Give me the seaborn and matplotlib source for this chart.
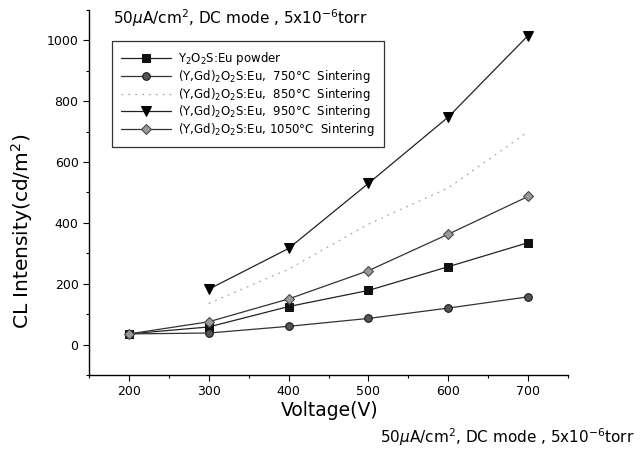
import matplotlib
matplotlib.use("Agg")
import matplotlib.pyplot as plt
import seaborn as sns
import pandas as pd
from matplotlib.ticker import MultipleLocator

# ---- data ----
voltage_full = [200, 300, 400, 500, 600, 700]
voltage_part = [300, 400, 500, 600, 700]
powder = [35, 58, 125, 178, 256, 335]
sinter_750 = [35, 38, 60, 86, 120, 157]
sinter_850 = [135, 248, 396, 515, 700]
sinter_950 = [182, 316, 530, 748, 1016]
sinter_1050 = [35, 75, 150, 243, 363, 487]

labels = [
    r"Y$_2$O$_2$S:Eu powder",
    r"(Y,Gd)$_2$O$_2$S:Eu,  750$\degree$C  Sintering",
    r"(Y,Gd)$_2$O$_2$S:Eu,  850$\degree$C  Sintering",
    r"(Y,Gd)$_2$O$_2$S:Eu,  950$\degree$C  Sintering",
    r"(Y,Gd)$_2$O$_2$S:Eu, 1050$\degree$C  Sintering",
]
x_ticks = [200, 300, 400, 500, 600, 700]
y_ticks = [0, 200, 400, 600, 800, 1000]

sns.set_style("ticks")
plt.rcParams["font.family"] = ["DejaVu Sans"]
plt.rcParams["mathtext.fontset"] = "dejavusans"
plt.rcParams["text.color"] = "black"
plt.rcParams["axes.labelcolor"] = "black"

fig = plt.figure(figsize=(6.41, 4.5), dpi=100)
ax = fig.add_axes([89/641, 75/450, 479/641, 365/450])

series = [
    (voltage_full, powder, labels[0], dict(marker="s", color="#222222", markerfacecolor="#111111",
                                           markeredgecolor="#111111", markersize=5.5, linestyle="-")),
    (voltage_full, sinter_750, labels[1], dict(marker="o", color="#333333", markerfacecolor="#555555",
                                               markeredgecolor="#111111", markersize=5.5, linestyle="-")),
    (voltage_part, sinter_850, labels[2], dict(marker=None, color="#aaaaaa", linestyle=(0, (1.5, 4)))),
    (voltage_part, sinter_950, labels[3], dict(marker="v", color="#222222", markerfacecolor="#000000",
                                               markeredgecolor="#000000", markersize=7, linestyle="-")),
    (voltage_full, sinter_1050, labels[4], dict(marker="D", color="#333333", markerfacecolor="#999999",
                                                markeredgecolor="#444444", markersize=5, linestyle="-")),
]

for xs, ys, lab, kw in series:
    df = pd.DataFrame({"V": xs, "I": ys})
    sns.lineplot(data=df, x="V", y="I", ax=ax, label=lab, linewidth=0.9, **kw)

ax.set_xlim(150, 750)
ax.set_ylim(-100, 1100)
ax.set_xticks(x_ticks)
ax.set_yticks(y_ticks)
ax.xaxis.set_minor_locator(MultipleLocator(50))
ax.yaxis.set_minor_locator(MultipleLocator(100))
ax.tick_params(axis="both", which="major", direction="out", length=4, width=0.8, labelsize=9, colors="black")
ax.tick_params(axis="both", which="minor", direction="out", length=2.5, width=0.8, colors="black")
for s in ["top", "right"]:
    ax.spines[s].set_visible(False)
for s in ["left", "bottom"]:
    ax.spines[s].set_linewidth(1.0)
    ax.spines[s].set_color("black")

ax.set_xlabel("Voltage(V)", fontsize=13.5)
ax.set_ylabel(r"CL Intensity(cd/m$^2$)", fontsize=14.5)
ax.xaxis.set_label_coords((330 - 89) / 479, (375 - 411) / 365)
ax.yaxis.set_label_coords((22 - 89) / 479, (375 - 231) / 365)
ax.yaxis.label.set_va("center")
ax.xaxis.label.set_va("center")

leg = ax.legend(loc="upper left", bbox_to_anchor=(0.048, 0.915), frameon=True, fancybox=False,
                edgecolor="black", fontsize=8.5, handlelength=4.2, borderaxespad=0,
                borderpad=0.8, labelspacing=0.05, handletextpad=0.6)
leg.get_frame().set_linewidth(0.9)

title = r"50$\mu$A/cm$^2$, DC mode , 5x10$^{-6}$torr"
ax.text(0.05, 0.978, title, transform=ax.transAxes, fontsize=11, va="center", ha="left")
fig.text(380/641, 13/450, title, fontsize=11, va="center", ha="left")

fig.savefig("out.png", dpi=100)
